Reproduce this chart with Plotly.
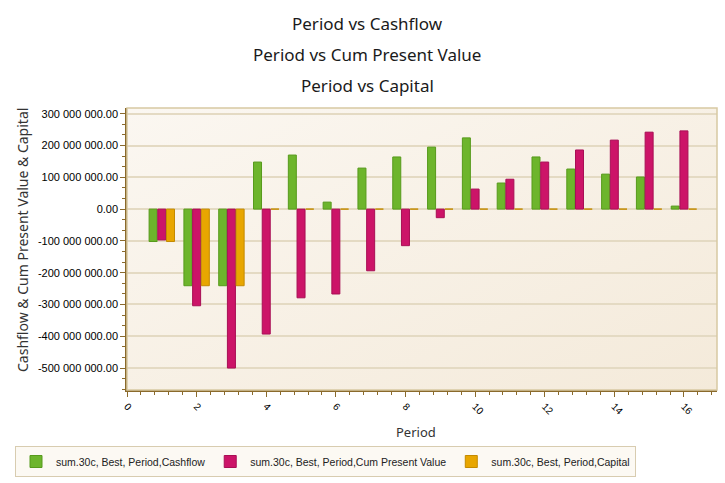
import base64
import plotly.graph_objects as go

periods = list(range(1, 17))
cashflow = [-102e6, -241e6, -241e6, 148e6, 170e6, 22e6, 129e6, 164e6,
            195e6, 224e6, 82e6, 164e6, 126e6, 110e6, 101e6, 9.5e6]
cum_pv = [-97e6, -304e6, -500e6, -393e6, -279e6, -267e6, -194e6, -115e6,
          -27e6, 63e6, 94e6, 148e6, 186e6, 217e6, 242e6, 246e6]
capital = [-102e6, -241e6, -241e6, 0, 0, 0, 0, 0, 0, 0, 0, 0, 0, 0, 0, 0]

series_names = ["sum.30c, Best, Period,Cashflow",
                "sum.30c, Best, Period,Cum Present Value",
                "sum.30c, Best, Period,Capital"]
titles = ["Period vs Cashflow", "Period vs Cum Present Value", "Period vs Capital"]
y_ticks = [300e6, 200e6, 100e6, 0, -100e6, -200e6, -300e6, -400e6, -500e6]
x_ticks = [0, 2, 4, 6, 8, 10, 12, 14, 16]

y_ticktext = [f"{v:,.2f}".replace(",", " ") for v in y_ticks]

fills = ["#6db52c", "#cc1468", "#e8a600"]
edges = ["#579a1c", "#a80f55", "#c48a00"]

fig = go.Figure()
for name, vals, fc, ec in zip(series_names, [cashflow, cum_pv, capital], fills, edges):
    fig.add_trace(go.Bar(x=periods, y=vals, name=name,
                         marker=dict(color=fc, line=dict(color=ec, width=1))))

svg = ('<svg xmlns="http://www.w3.org/2000/svg" width="100" height="100" preserveAspectRatio="none">'
       '<defs><linearGradient id="g" x1="0" y1="0" x2="1" y2="1">'
       '<stop offset="0" stop-color="#fbf7f1"/><stop offset="1" stop-color="#f4eada"/>'
       '</linearGradient></defs><rect width="100" height="100" fill="url(#g)"/></svg>')
src = "data:image/svg+xml;base64," + base64.b64encode(svg.encode()).decode()

axis_col = "#8a6a2c"
grid_col = "#e4dac3"

PL, PR, PT, PB = 127, 717, 108, 390


def px(xp):
    return (xp - PL) / (PR - PL)


def py(yp):
    return (PB - yp) / (PB - PT)


annotations = []
for i, t in enumerate(titles):
    annotations.append(dict(text=t, xref="paper", yref="paper", x=px(367),
                            y=py(23 + 31 * i), xanchor="center", yanchor="middle",
                            showarrow=False, font=dict(family="Noto Sans", size=17, color="#1a1a1a")))
annotations.append(dict(text="Cashflow & Cum Present Value & Capital", xref="paper", yref="paper",
                        x=px(22), y=py(240), textangle=-90, xanchor="center",
                        yanchor="middle", showarrow=False,
                        font=dict(family="Noto Sans", size=14, color="#333333")))
annotations.append(dict(text="Period", xref="paper", yref="paper", x=px(416),
                        y=py(432), xanchor="center", yanchor="middle", showarrow=False,
                        font=dict(family="Noto Sans", size=13, color="#333333")))

fig.update_layout(
    width=725, height=483,
    margin=dict(l=PL, r=725 - PR, t=PT, b=483 - PB, autoexpand=False),
    paper_bgcolor="white",
    plot_bgcolor="rgba(0,0,0,0)",
    barmode="group", bargap=0.25, bargroupgap=0.08,
    font=dict(family="Liberation Sans", size=10, color="#222222"),
    images=[dict(source=src, xref="paper", yref="paper", x=0, y=1, sizex=1, sizey=1,
                 sizing="stretch", layer="below", xanchor="left", yanchor="top")],
    annotations=annotations,
    showlegend=True,
    legend=dict(orientation="h", xref="paper", yref="paper", x=px(15), y=py(446),
                xanchor="left", yanchor="top", bgcolor="#fcf9f3", bordercolor="#d8ccb0",
                borderwidth=1, font=dict(family="Liberation Sans", size=10.5, color="#222222"),
                itemwidth=30, tracegroupgap=0),
    shapes=[dict(type="rect", xref="paper", yref="paper", x0=0, x1=1, y0=0, y1=1,
                 line=dict(color="#d8c9a2", width=1.5), layer="above")],
)

fig.update_xaxes(range=[0, 16.95], tickvals=x_ticks, ticktext=[str(v) for v in x_ticks],
                 tickangle=45, ticks="outside", ticklen=5, tickcolor=axis_col,
                 showline=True, linecolor=axis_col, linewidth=1.5, showgrid=False, zeroline=False,
                 tickfont=dict(family="Liberation Sans", size=10, color="#000000"),
                 minor=dict(dtick=0.4, tick0=0, ticks="outside", ticklen=3, tickcolor=axis_col,
                            showgrid=False))
fig.update_yaxes(range=[-569e6, 318e6], tickvals=y_ticks, ticktext=y_ticktext,
                 ticks="outside", ticklen=5, tickcolor=axis_col,
                 showline=True, linecolor=axis_col, linewidth=1.5,
                 showgrid=True, gridcolor=grid_col, gridwidth=1.5, zeroline=False,
                 tickfont=dict(family="Liberation Sans", size=11, color="#000000"),
                 minor=dict(dtick=100e6 / 3, tick0=0, ticks="outside", ticklen=3,
                            tickcolor=axis_col, showgrid=False))

fig.write_html("out.html", post_script="document.body.style.margin='0';",
               config={"displayModeBar": False})
